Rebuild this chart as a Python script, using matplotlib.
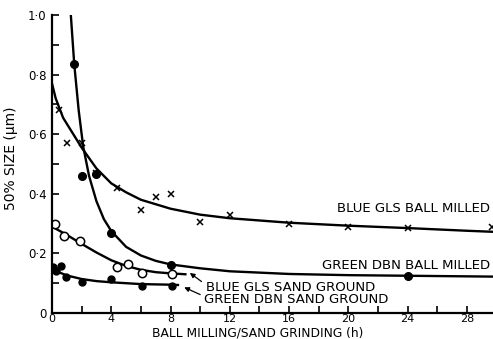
import matplotlib.pyplot as plt

# measured points
blue_bm_t = [0.5, 1, 2, 3, 4.4, 6, 7, 8, 10, 12, 16, 20, 24, 29.7]
blue_bm_d = [0.68, 0.57, 0.57, 0.47, 0.42, 0.345, 0.39, 0.40, 0.305, 0.33, 0.30, 0.29, 0.285, 0.29]

green_bm_t = [1.5, 2, 3, 4, 8, 24]
green_bm_d = [0.835, 0.46, 0.465, 0.27, 0.16, 0.124]

blue_sg_t = [0.2, 0.8, 1.9, 4.4, 5.1, 6.1, 8.1]
blue_sg_d = [0.30, 0.26, 0.24, 0.155, 0.165, 0.134, 0.13]

green_sg_t = [0.1, 0.3, 0.6, 0.95, 2, 4, 6.1, 8.1]
green_sg_d = [0.155, 0.14, 0.158, 0.12, 0.105, 0.113, 0.092, 0.092]

# hand-drawn trend curves
blue_bm_ct = [0, 0.25, 0.75, 1.5, 2, 3, 4, 5, 6, 8, 10, 12, 16, 20, 24, 28, 30]
blue_bm_cd = [0.77, 0.72, 0.655, 0.595, 0.555, 0.485, 0.435, 0.405, 0.38, 0.35,
              0.33, 0.318, 0.303, 0.293, 0.285, 0.276, 0.272]

green_bm_ct = [1.27, 1.5, 1.8, 2.1, 2.5, 3, 3.5, 4, 5, 6, 7, 8, 10, 12, 16, 20, 24, 30]
green_bm_cd = [1.0, 0.835, 0.68, 0.56, 0.46, 0.375, 0.315, 0.275, 0.222, 0.193,
               0.175, 0.163, 0.15, 0.14, 0.131, 0.127, 0.125, 0.122]

blue_sg_ct = [0, 1, 2, 3, 4, 5, 6, 7, 8, 9]
blue_sg_cd = [0.29, 0.262, 0.232, 0.203, 0.177, 0.158, 0.145, 0.137, 0.133, 0.13]

green_sg_ct = [0, 0.5, 1, 2, 3, 4, 6, 8, 8.5]
green_sg_cd = [0.15, 0.136, 0.126, 0.114, 0.107, 0.103, 0.097, 0.095, 0.094]

xticks = [0, 4, 8, 12, 16, 20, 24, 28]
yticks = [0, 0.2, 0.4, 0.6, 0.8, 1.0]
ylabels = ['0', '0·2', '0·4', '0·6', '0·8', '1·0']

plt.rcParams['font.family'] = 'DejaVu Sans'
fig = plt.figure(figsize=(4.93, 3.39), dpi=100)
ax = fig.add_axes([0.1055, 0.0767, 0.8945, 0.879])

lw = 1.7
ax.plot(blue_bm_ct, blue_bm_cd, color='black', lw=lw)
ax.plot(green_bm_ct, green_bm_cd, color='black', lw=lw)
ax.plot(blue_sg_ct, blue_sg_cd, color='black', lw=lw)
ax.plot(green_sg_ct, green_sg_cd, color='black', lw=lw)

ax.plot(blue_bm_t, blue_bm_d, 'x', color='black', ms=5, mew=1.1)
ax.plot(green_bm_t, green_bm_d, 'o', color='black', ms=5.5)
ax.plot(blue_sg_t, blue_sg_d, 'o', mfc='white', mec='black', ms=6, mew=1.1)
ax.plot(green_sg_t, green_sg_d, 'o', color='black', ms=5)

fs = 9.5
ax.text(29.55, 0.352, 'BLUE GLS BALL MILLED', ha='right', va='center', fontsize=fs)
ax.text(29.55, 0.161, 'GREEN DBN BALL MILLED', ha='right', va='center', fontsize=fs)
ax.text(10.4, 0.087, 'BLUE GLS SAND GROUND', ha='left', va='center', fontsize=fs)
ax.text(10.25, 0.044, 'GREEN DBN SAND GROUND', ha='left', va='center', fontsize=fs)

arrow = dict(arrowstyle='-|>', color='black', lw=0.9, mutation_scale=7)
ax.annotate('', xy=(9.15, 0.14), xytext=(10.24, 0.10), arrowprops=arrow)
ax.annotate('', xy=(8.75, 0.09), xytext=(10.17, 0.058), arrowprops=arrow)

ax.set_xlim(0, 29.76)
ax.set_ylim(0, 1.0)
ax.set_xticks(xticks)
ax.set_xticks(range(2, 30, 4), minor=True)
ax.set_yticks(yticks)
ax.set_yticklabels(ylabels)
ax.set_yticks([0.1, 0.3, 0.5, 0.7, 0.9], minor=True)
ax.tick_params(which='both', direction='in', length=5, width=1.2, labelsize=8.5)
ax.tick_params(axis='x', labelsize=8, pad=0.5)
ax.tick_params(axis='y', pad=4)
for s in ['top', 'right']:
    ax.spines[s].set_visible(False)
for s in ['left', 'bottom']:
    ax.spines[s].set_linewidth(1.6)

ax.set_xlabel('BALL MILLING/SAND GRINDING (h)', fontsize=8.8)
ax.set_ylabel('50% SIZE (μm)', fontsize=10)
ax.xaxis.set_label_coords(0.466, -0.0455)
ax.yaxis.set_label_coords(-0.078, 0.52)

fig.savefig('out.png', dpi=100)
